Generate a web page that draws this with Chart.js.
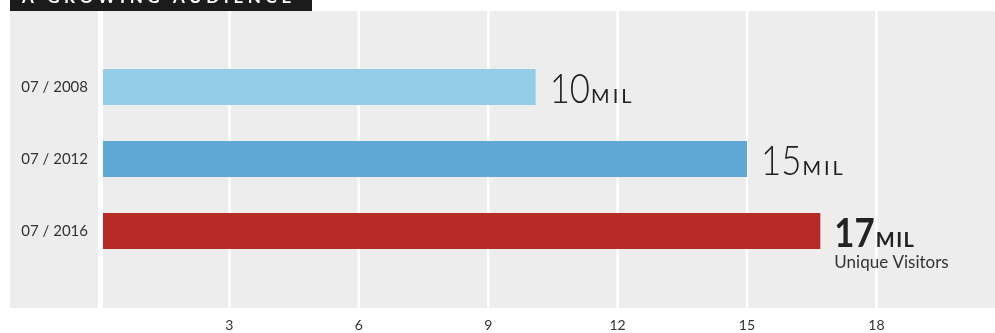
<!DOCTYPE html>
<html>
<head>
<meta charset="utf-8">
<script src="https://cdn.jsdelivr.net/npm/chart.js@4.4.1/dist/chart.umd.min.js"></script>
<style>
    body { margin: 0; background: #fff; }
    #wrap { width: 995px; height: 333px; }
</style>
</head>
<body>
<div id="wrap"><canvas id="myChart" width="995" height="333"></canvas></div>
<script>
const titleText = 'A GROWING AUDIENCE'
const dates = ['07 / 2008', '07 / 2012', '07 / 2016']
const visitors = [10.1, 15, 16.7]
const valueLabels = ['10', '15', '17']
const unitLabel = 'MIL'
const noteLabel = 'Unique Visitors'
const xTicks = [3, 6, 9, 12, 15, 18]
const barColors = ['#93cde8', '#5fa9d4', '#b62b26']

// background panel, gridlines and the zero line
const panelPlugin = {
    id: 'panel',
    beforeDraw(chart) {
        const ctx = chart.ctx
        const x = chart.scales.x
        ctx.save()
        ctx.fillStyle = '#ededed'
        ctx.fillRect(10, 11, chart.width - 10, 297)
        ctx.strokeStyle = '#ffffff'
        ctx.lineWidth = 2.5
        for (let i in xTicks) {
            let px = x.getPixelForValue(xTicks[i])
            ctx.beginPath()
            ctx.moveTo(px, 11)
            ctx.lineTo(px, 308)
            ctx.stroke()
        }
        // title strip, mostly cut off at the top
        ctx.fillStyle = '#1b1b1b'
        ctx.fillRect(10, 0, 302, 11)
        ctx.fillStyle = '#ffffff'
        ctx.font = 'bold 17px Lato'
        ctx.letterSpacing = '4.6px'
        ctx.textBaseline = 'alphabetic'
        ctx.fillText(titleText, 22, 3)
        ctx.restore()
    },
    afterDatasetsDraw(chart) {
        const ctx = chart.ctx
        const x = chart.scales.x
        const px = x.getPixelForValue(0)
        ctx.save()
        ctx.strokeStyle = '#ffffff'
        ctx.lineWidth = 5
        ctx.beginPath()
        ctx.moveTo(px + 0.5, 11)
        ctx.lineTo(px + 0.5, 308)
        ctx.stroke()

        // value labels at the end of each bar
        const bars = chart.getDatasetMeta(0).data
        for (let i = 0; i < bars.length; i++) {
            let bar = bars[i]
            let last = i === bars.length - 1
            let sx = bar.x + 14
            let base = bar.y + 16
            ctx.fillStyle = '#222'
            ctx.textBaseline = 'alphabetic'
            ctx.letterSpacing = '0px'
            ctx.font = (last ? 'bold ' : '300 ') + '41px Lato'
            ctx.save()
            ctx.translate(sx, base)
            ctx.scale(0.85, 1)
            ctx.fillText(valueLabels[i], 0, 0)
            ctx.restore()
            let w = ctx.measureText(valueLabels[i]).width * 0.85
            ctx.font = (last ? 'bold ' : '') + '20px Lato'
            ctx.letterSpacing = last ? '1.5px' : '3px'
            ctx.fillText(unitLabel, sx + w + 1, base)
            if (last) {
                ctx.letterSpacing = '0px'
                ctx.font = '17px Lato'
                ctx.fillStyle = '#333'
                ctx.fillText(noteLabel, sx + 0, base + 21)
            }
        }
        ctx.restore()
    }
}

const ctx = document.getElementById('myChart')

new Chart(ctx, {
    type: 'bar',
    data: {
        labels: dates,
        datasets: [{
            data: visitors,
            backgroundColor: barColors,
            hoverBackgroundColor: barColors,
            borderWidth: 0,
            barPercentage: 0.5,
            categoryPercentage: 1
        }]
    },
    options: {
        indexAxis: 'y',
        responsive: false,
        animation: false,
        layout: {
            padding: { top: 51, right: 0, bottom: 0, left: 0 }
        },
        scales: {
            x: {
                min: 0,
                max: 20.75,
                border: { display: false },
                grid: { display: false, drawTicks: false },
                afterFit: function (s) { s.height = 66 },
                ticks: {
                    stepSize: 3,
                    includeBounds: false,
                    maxRotation: 0,
                    padding: 50,
                    color: '#333',
                    font: { family: 'Lato', size: 14 },
                    callback: function (v) {
                        return xTicks.includes(v) ? v : ''
                    }
                }
            },
            y: {
                offset: true,
                border: { display: false },
                grid: { display: false, drawTicks: false },
                afterFit: function (s) { s.width = 100 },
                ticks: {
                    padding: 12,
                    color: '#333',
                    font: { family: 'Lato', size: 15 }
                }
            }
        },
        plugins: {
            legend: { display: false },
            tooltip: { enabled: false }
        }
    },
    plugins: [panelPlugin]
});
</script>
</body>
</html>
